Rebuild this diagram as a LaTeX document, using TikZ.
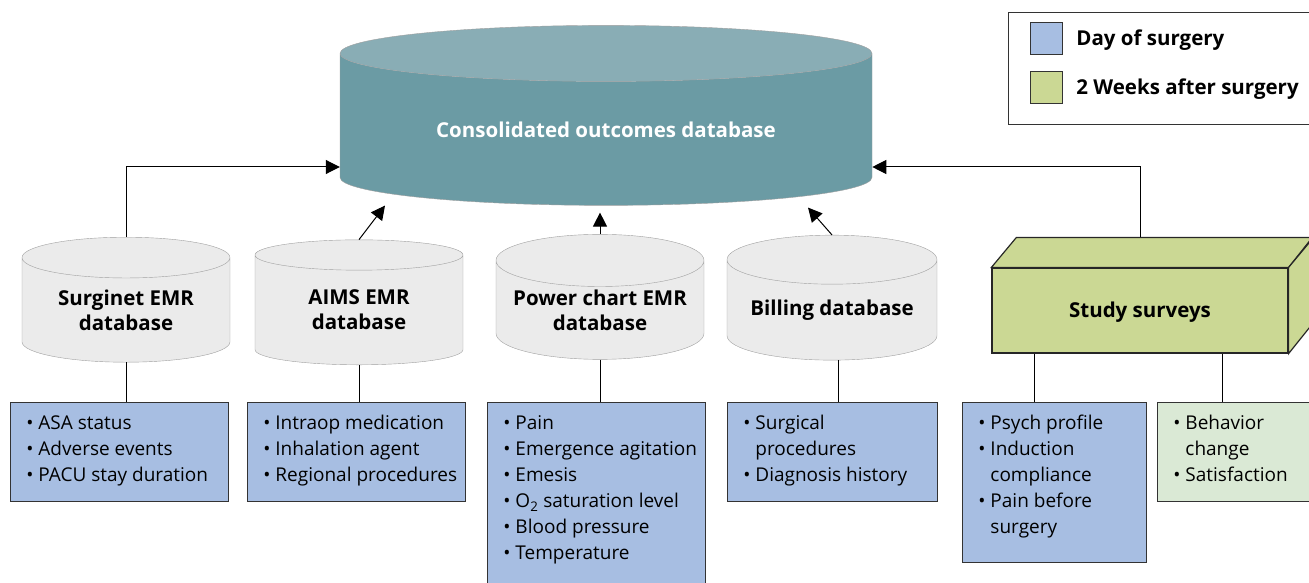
\documentclass[tikz,border=0pt]{standalone}
\usepackage{fontspec}
\setmainfont{Open Sans}
\usetikzlibrary{shapes.geometric,arrows.meta,positioning,calc}

\definecolor{daysurg}{HTML}{A7BEE2}
\definecolor{weeksurg}{HTML}{CBD894}
\definecolor{weeklight}{HTML}{DAE9D5}
\definecolor{dbteal}{HTML}{6B9BA4}
\definecolor{dbtealtop}{HTML}{89ADB5}
\definecolor{dbgray}{HTML}{EBEBEB}
\definecolor{dbedge}{HTML}{A0A0A0}

\newcommand{\bul}{\makebox[12pt][l]{\textbullet}}
\newcommand{\cont}{\hspace*{12pt}}
\newcommand{\itemlist}[2]{\makebox[#1][l]{\begin{tabular}[t]{@{}l@{}}#2\end{tabular}}}

\begin{document}
\begin{tikzpicture}[
  x=1pt, y=-1pt,
  db/.style={
    cylinder, shape border rotate=90, aspect=0.3, draw=dbedge, fill=dbgray,
    minimum width=208pt, minimum height=125pt, inner sep=0pt,
    align=center, font=\fontsize{20.5}{25}\selectfont\bfseries
  },
  listbox/.style={
    draw=black!80, line width=0.9pt, fill=daysurg, anchor=north west,
    inner xsep=16pt, inner ysep=0pt, text height=27.5pt,
    font=\fontsize{19}{26}\selectfont
  },
  swatch/.style={draw=black!80, minimum size=32pt, inner sep=0pt},
  legtext/.style={font=\fontsize{20.5}{24}\selectfont\bfseries, inner sep=0pt},
  line/.style={line width=1pt},
  arrow/.style={-{Triangle[length=14pt,width=14pt]}, line width=1pt}
]
\useasboundingbox (0,0) rectangle (1309,583);
\clip (0,0) rectangle (1309,583);

% Legend
\node[draw=black!80, line width=0.9pt, anchor=north west, minimum width=330pt,
  minimum height=112pt] (legend) at (1008,12) {};
\node[swatch, fill=daysurg] (dsw) at (1046,38) {};
\node[legtext, right=14pt of dsw, yshift=-2pt] {Day of surgery};
\node[swatch, fill=weeksurg] (wsw) at (1046,87) {};
\node[legtext, right=14pt of wsw, yshift=-2pt] {2 Weeks after surgery};

% Consolidated database
\node[db, aspect=0.165, minimum width=532pt, minimum height=180pt,
  fill=none, cylinder uses custom fill, cylinder body fill=dbteal,
  cylinder end fill=dbtealtop, text=white] (cdb) at (606,129.5)
  {Consolidated outcomes database};

% Source databases
\node[db] (sdb) at (126,310) {Surginet EMR\\database};
\node[db] (adb) at (359,310) {AIMS EMR\\database};
\node[db] (pdb) at (600,310) {Power chart EMR\\database};
\node[db, minimum width=210pt] (bdb) at (832,310) {Billing database};

% Study surveys (box)
\node[draw=black!85, line width=1.2pt, fill=weeksurg, minimum width=296pt,
  minimum height=85pt, text height=14.6pt, text depth=0pt,
  font=\fontsize{20.5}{24}\selectfont\bfseries] (ss)
  at (1140,310.5) {Study surveys};
\draw[line width=1.2pt, draw=black!85, fill=weeksurg] (ss.north west) -- ++(25,-30)
  -- ++(296,0) -- (ss.north east) -- cycle;
\draw[line width=1.2pt, draw=black!85, fill=weeksurg] (ss.north east) -- ++(25,-30)
  -- ++(0,85) -- (ss.south east) -- cycle;

% Data items
\node[listbox, text depth=71.5pt] (sl) at (10,402)
  {\itemlist{186pt}{\bul ASA status\\\bul Adverse events\\\bul PACU stay duration}};
\node[listbox, text depth=71.5pt] (al) at (247,402)
  {\itemlist{186pt}{\bul Intraop medication\\\bul Inhalation agent\\\bul Regional procedures}};
\node[listbox, text depth=175pt] (pl) at (487,402)
  {\itemlist{186pt}{\bul Pain\\\bul Emergence agitation\\\bul Emesis\\
  \bul O\textsubscript{2} saturation level\\\bul Blood pressure\\\bul Temperature}};
\node[listbox, text depth=71.5pt] (bl) at (727,402)
  {\itemlist{178pt}{\bul Surgical\\\cont procedures\\\bul Diagnosis history}};
\node[listbox, text depth=132.5pt] (ql) at (962,402)
  {\itemlist{152pt}{\bul Psych profile\\\bul Induction\\\cont compliance\\
  \bul Pain before\\\cont surgery}};
\node[listbox, fill=weeklight, text depth=71.5pt] (wl) at (1157,402)
  {\itemlist{152pt}{\bul Behavior\\\cont change\\\bul Satisfaction}};

% Feeds into consolidated database
\draw[arrow] (sdb.north) |- ([yshift=-37.5pt]cdb.west);
\draw[arrow] (adb.north) -- ([xshift=-221pt]cdb.south);
\draw[arrow] (pdb.north) -- ([xshift=-6pt,yshift=-7pt]cdb.south);
\draw[arrow] (bdb.north) -- ([xshift=202pt,yshift=-2pt]cdb.south);
\draw[arrow] ([yshift=30pt]ss.north) |- ([yshift=-37.5pt]cdb.east);

% Links to data items
\draw[line] (sdb.south) -- (sdb.south |- sl.north);
\draw[line] (adb.south) -- (adb.south |- al.north);
\draw[line] (pdb.south) -- (pdb.south |- pl.north);
\draw[line] ([xshift=6pt]bdb.south) -- ([xshift=6pt]bdb.south |- bl.north);
\draw[line] ([xshift=-106pt]ss.south) -- ([xshift=-106pt]ss.south |- ql.north);
\draw[line] ([xshift=82pt]ss.south) -- ([xshift=82pt]ss.south |- wl.north);

\end{tikzpicture}
\end{document}
